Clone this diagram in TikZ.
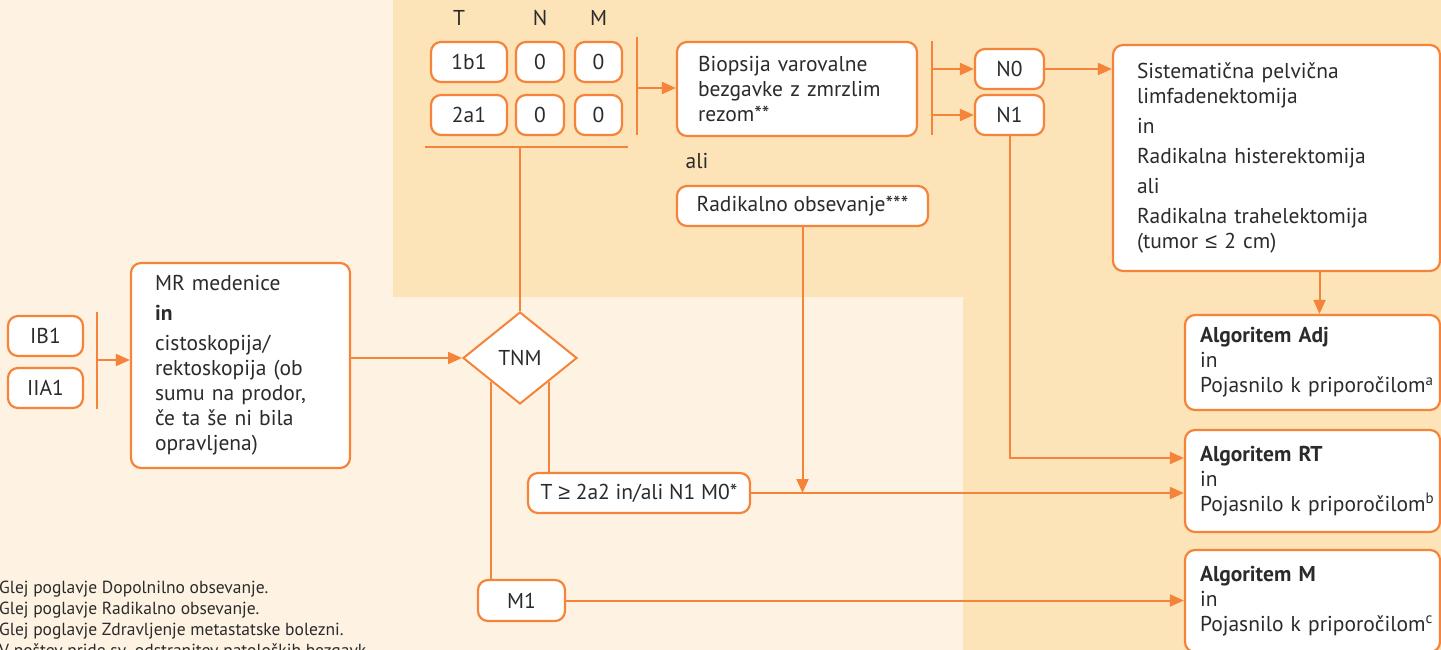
\documentclass[tikz,border=0pt]{standalone}
\usepackage{fontspec}
\setmainfont{PT Sans}
\newfontfamily\symf{Liberation Sans}
\usetikzlibrary{shapes.geometric,arrows.meta}
\definecolor{cream}{HTML}{FEF3E2}
\definecolor{peach}{HTML}{FDE3B8}
\definecolor{lineor}{HTML}{F5843A}
\definecolor{txt}{HTML}{2B2B2B}
\newcommand{\lesym}{{\symf ≤}}
\newcommand{\gesym}{{\symf ≥}}
\tikzset{
	box/.style={draw=lineor, fill=white, line width=2.2pt, rounded corners=10pt, text=txt, inner sep=0pt, font=\fontsize{21.5}{25}\selectfont},
	lbl/.style={text=txt, inner sep=0pt, font=\fontsize{21.5}{25}\selectfont},
	ln/.style={draw=lineor, line width=2pt},
	arr/.style={draw=lineor, line width=2pt, -{Triangle[length=14pt,width=12pt]}},
}

\begin{document}
\begin{tikzpicture}[x=1pt,y=-1pt]

	%background
	\useasboundingbox (0,0) rectangle (1441,650);
	\fill[cream] (0,0) rectangle (1441,650);
	\fill[peach] (393,0) -- (1441,0) -- (1441,650) -- (963,650) -- (963,297) -- (393,297) -- cycle;

	%stage and work-up
	\node[box, minimum width=75pt, minimum height=40pt] (ib1) at (45.5,336) {IB1};
	\node[box, minimum width=75pt, minimum height=40pt] (iia1) at (45.5,388) {IIA1};
	\node[box, text width=171pt, inner xsep=24pt, minimum height=205pt, align=left] (mr) at (240.5,365.5)
		{MR medenice\\[5pt] \textbf{in}\\[5pt] cistoskopija/\\ rektoskopija (ob\\ sumu na prodor,\\ če ta še ni bila\\ opravljena)};
	\coordinate (bar0t) at (97,312);
	\coordinate (bar0b) at (97,409);
	\coordinate (bar0m) at (97,360);
	\draw[ln] (bar0t) -- (bar0b);
	\draw[arr] (bar0m) -- (bar0m -| mr.west);

	%TNM decision
	\node[diamond, draw=lineor, fill=white, line width=2pt, minimum width=114pt, minimum height=92pt, inner sep=0pt, aspect=1.24, text=txt, font=\fontsize{21.5}{25}\selectfont] (tnm) at (520,358) {TNM};
	\draw[arr] (tnm.west -| mr.east) -- (tnm.west);

	%TNM table
	\node[lbl] (colT) at (459,18) {T};
	\node[lbl] (colN) at (540,18) {N};
	\node[lbl] (colM) at (598.5,18) {M};
	\node[box, minimum width=76pt, minimum height=40pt] (t1) at (469,62) {1b1};
	\node[box, minimum width=48pt, minimum height=40pt] (n1a) at (540,62) {0};
	\node[box, minimum width=47pt, minimum height=40pt] (m1a) at (598.5,62) {0};
	\node[box, minimum width=76pt, minimum height=40pt] (t2) at (469,115) {2a1};
	\node[box, minimum width=48pt, minimum height=40pt] (n2a) at (540,115) {0};
	\node[box, minimum width=47pt, minimum height=40pt] (m2a) at (598.5,115) {0};
	\coordinate (ulL) at (425,147);
	\coordinate (ulR) at (628,147);
	\coordinate (ulM) at (520,147);
	\draw[ln] (ulL) -- (ulR);
	\draw[ln] (ulM) -- (tnm.north);

	%sentinel node biopsy
	\node[box, text width=198pt, inner xsep=21pt, minimum height=94pt, align=left] (biop) at (797,89)
		{Biopsija varovalne\\ bezgavke z zmrzlim\\ rezom**};
	\coordinate (bar1t) at (637,37);
	\coordinate (bar1b) at (637,135);
	\coordinate (bar1m) at (637,88);
	\draw[ln] (bar1t) -- (bar1b);
	\draw[arr] (bar1m) -- (bar1m -| biop.west);

	\node[lbl] (ali) at (697,161) {ali};
	\node[box, minimum width=251pt, minimum height=40pt] (rad) at (802.5,206) {Radikalno obsevanje***};

	%N status
	\node[box, minimum width=69pt, minimum height=40pt] (n0) at (1009.5,69) {N0};
	\node[box, minimum width=69pt, minimum height=40pt] (n1) at (1009.5,115) {N1};
	\coordinate (bar2t) at (932,41);
	\coordinate (bar2b) at (932,135);
	\draw[ln] (bar2t) -- (bar2b);
	\draw[arr] (bar2t |- n0.west) -- (n0.west);
	\draw[arr] (bar2t |- n1.west) -- (n1.west);

	%surgery
	\node[box, text width=279pt, inner xsep=24pt, minimum height=226pt, align=left] (sist) at (1276.5,158)
		{Sistematična pelvična\\ limfadenektomija\\[5pt] in\\[5pt] Radikalna histerektomija\\[5pt] ali\\[5pt] Radikalna trahelektomija\\ (tumor \lesym{} 2 cm)};
	\draw[arr] (n0.east) -- (n0.east -| sist.west);

	%algorithms
	\node[box, text width=225pt, inner xsep=15pt, minimum height=95pt, align=left] (adj) at (1312.5,362.5)
		{\textbf{Algoritem Adj}\\ in\\ \mbox{Pojasnilo k priporočilom\textsuperscript{a}}};
	\node[box, text width=225pt, inner xsep=15pt, minimum height=102pt, align=left] (rt) at (1312.5,481)
		{\textbf{Algoritem RT}\\ in\\ \mbox{Pojasnilo k priporočilom\textsuperscript{b}}};
	\node[box, text width=225pt, inner xsep=15pt, minimum height=102pt, align=left] (algm) at (1312.5,601)
		{\textbf{Algoritem M}\\ in\\ \mbox{Pojasnilo k priporočilom\textsuperscript{c}}};
	\draw[arr] ([xshift=7pt]adj.north |- sist.south) -- ([xshift=7pt]adj.north);
	\draw[arr] (n1.south) |- ([yshift=23pt]rt.west);

	%advanced and metastatic
	\node[box, minimum width=222pt, minimum height=40pt] (tbox) at (639,493) {T \gesym{} 2a2 in/ali N1 M0*};
	\node[box, minimum width=87pt, minimum height=41pt] (m1) at (521.5,600.5) {M1};
	\draw[ln] (tnm.south east) -- (tnm.south east |- tbox.north);
	\draw[ln] (tnm.south west) -- (tnm.south west |- m1.north);
	\draw[arr] (tbox.east) -- (tbox.east -| rt.west);
	\draw[arr] (rad.south) -- (rad.south |- tbox.east);
	\draw[arr] (m1.east) -- (m1.east -| algm.west);

	%footnotes
	\node[anchor=north west, align=left, text=txt, inner sep=0pt, font=\fontsize{17.5}{21}\selectfont] (notes) at (-1,581)
		{Glej poglavje Dopolnilno obsevanje.\\ Glej poglavje Radikalno obsevanje.\\ Glej poglavje Zdravljenje metastatske bolezni.\\ V poštev pride sv. odstranitev patoloških bezgavk};

\end{tikzpicture}
\end{document}
